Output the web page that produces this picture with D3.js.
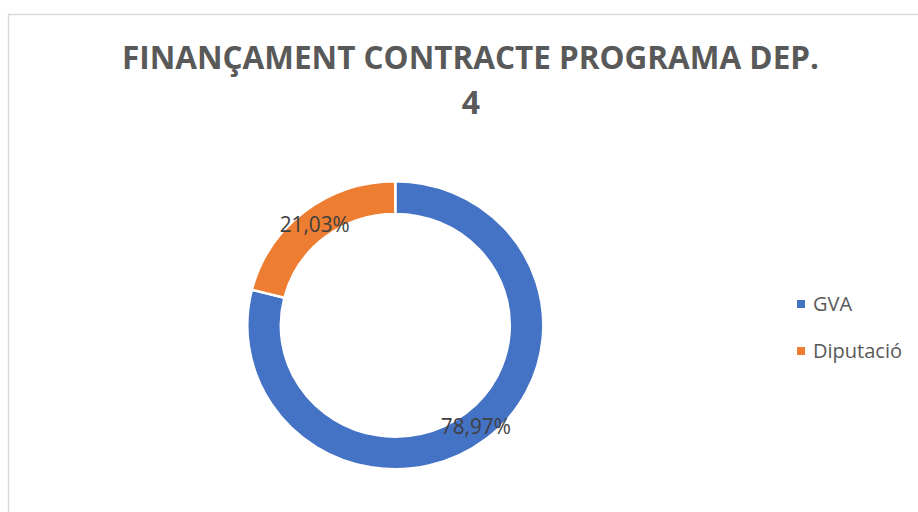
<!DOCTYPE html>
<html>
<head>
<meta charset="utf-8">
<script src="https://cdn.jsdelivr.net/npm/d3@7"></script>
<style>
  body { margin: 0; background: #fff; }
  svg { display: block; font-family: "Open Sans", "Noto Sans", sans-serif; }
</style>
</head>
<body>
<div id="chart"></div>
<script>
var svgWidth = 918;
var svgHeight = 512;

// chart data
var categories = ["GVA", "Diputació"];
var shares = [78.97, 21.03];
var colors = ["#4472c4", "#ed7d31"];
var titleLines = ["FINANÇAMENT CONTRACTE PROGRAMA DEP.", "4"];

var svg = d3.select("#chart")
  .append("svg")
  .attr("width", svgWidth)
  .attr("height", svgHeight);

// chart area frame (runs past right and bottom edges)
svg.append("rect")
  .attr("x", 8.5)
  .attr("y", 14.5)
  .attr("width", 1000)
  .attr("height", 600)
  .attr("fill", "none")
  .attr("stroke", "#d9d9d9")
  .attr("stroke-width", 1.5);

// title
svg.append("text")
  .attr("x", 470.5)
  .attr("y", 69)
  .attr("text-anchor", "middle")
  .attr("font-size", 32)
  .attr("font-weight", "bold")
  .attr("fill", "#595959")
  .attr("textLength", 697)
  .attr("lengthAdjust", "spacingAndGlyphs")
  .text(titleLines[0]);

svg.append("text")
  .attr("x", 471)
  .attr("y", 114)
  .attr("text-anchor", "middle")
  .attr("font-size", 32)
  .attr("font-weight", "bold")
  .attr("fill", "#595959")
  .text(titleLines[1]);

// donut (slightly squashed vertically like the original)
var outerR = 148;
var innerR = 114.5;

var pieGroup = svg.append("g")
  .attr("transform", "translate(395.3, 325.3) scale(1, 0.973)");

var pie = d3.pie().sort(null).value(d => d);
var arc = d3.arc().innerRadius(innerR).outerRadius(outerR);
var arcs = pie(shares);

pieGroup.selectAll("path")
  .data(arcs)
  .enter()
  .append("path")
  .attr("d", arc)
  .attr("fill", (d, i) => colors[i])
  .attr("stroke", "#fff")
  .attr("stroke-width", 2.5);

// percentage labels at slice centroids
var fmt = v => v.toFixed(2).replace(".", ",") + "%";
pieGroup.selectAll(".pct")
  .data(arcs)
  .enter()
  .append("text")
  .attr("class", "pct")
  .attr("transform", d => {
    var c = arc.centroid(d);
    return `translate(${c[0]}, ${c[1]}) scale(1, ${1 / 0.973})`;
  })
  .attr("dy", "0.36em")
  .attr("text-anchor", "middle")
  .attr("font-size", 22)
  .attr("fill", "#404040")
  .attr("textLength", 70)
  .attr("lengthAdjust", "spacingAndGlyphs")
  .text(d => fmt(d.data));

// legend
var legend = svg.append("g")
  .attr("transform", "translate(797, 0)");

var legendY = [300, 347];

legend.selectAll("rect")
  .data(categories)
  .enter()
  .append("rect")
  .attr("x", 0)
  .attr("y", (d, i) => legendY[i])
  .attr("width", 8)
  .attr("height", 8)
  .attr("fill", (d, i) => colors[i]);

legend.selectAll("text")
  .data(categories)
  .enter()
  .append("text")
  .attr("x", 16)
  .attr("y", (d, i) => legendY[i] + 10.5)
  .attr("font-size", 20)
  .attr("fill", "#595959")
  .text(d => d);
</script>
</body>
</html>
